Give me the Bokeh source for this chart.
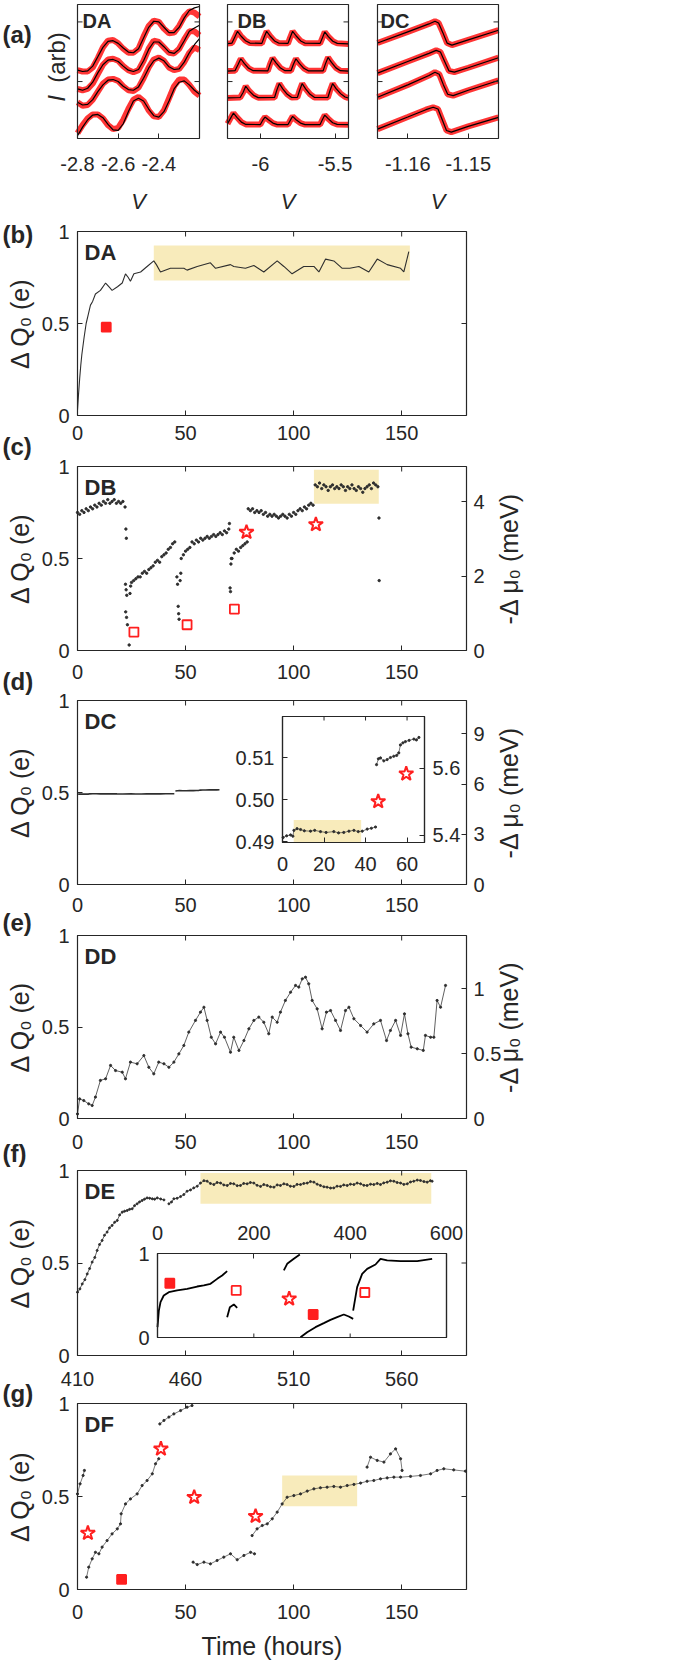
import math
import numpy as np
from bokeh.plotting import figure
from bokeh.models import Range1d, LinearAxis, FixedTicker, Label
from bokeh.embed import file_html
from bokeh.resources import INLINE

NaN = float("nan")

# ---------------- panel (a): I-V sweeps (arb. units) ----------------
DA_V = [-2.800, -2.775, -2.750, -2.725, -2.700, -2.675, -2.650, -2.625, -2.600, -2.575, -2.550, -2.525, -2.500,
        -2.475, -2.450, -2.425, -2.400, -2.375, -2.350, -2.325, -2.300, -2.275, -2.250, -2.225, -2.200]
DA_I1 = [0.51, 0.50, 0.50, 0.53, 0.60, 0.68, 0.73, 0.735, 0.71, 0.67, 0.64, 0.64, 0.67, 0.76, 0.84, 0.88, 0.87, 0.82, 0.785, 0.79, 0.84, 0.91, 0.95, 0.94, 0.91]
DA_I2 = [0.37, 0.36, 0.37, 0.41, 0.48, 0.55, 0.59, 0.595, 0.58, 0.54, 0.51, 0.495, 0.51, 0.58, 0.67, 0.73, 0.72, 0.68, 0.64, 0.635, 0.67, 0.74, 0.80, 0.80, 0.77]
DA_I3 = [0.27, 0.245, 0.25, 0.29, 0.35, 0.41, 0.44, 0.445, 0.43, 0.39, 0.36, 0.355, 0.38, 0.45, 0.53, 0.59, 0.605, 0.58, 0.53, 0.51, 0.52, 0.57, 0.64, 0.68, 0.66]
DA_I4 = [0.04, 0.10, 0.15, 0.18, 0.18, 0.15, 0.10, 0.07, 0.08, 0.14, 0.22, 0.29, 0.31, 0.28, 0.21, 0.165, 0.16, 0.21, 0.30, 0.39, 0.44, 0.44, 0.40, 0.35, 0.32]
DA_F1 = [0.51, 0.50, 0.505, 0.54, 0.61, 0.68, 0.725, 0.73, 0.71, 0.675, 0.645, 0.64, 0.67, 0.75, 0.83, 0.875, 0.87, 0.83, 0.79, 0.79, 0.83, 0.90, 0.955, 0.975, 0.985]
DA_F2 = [0.37, 0.36, 0.375, 0.42, 0.49, 0.55, 0.585, 0.59, 0.575, 0.54, 0.51, 0.50, 0.515, 0.58, 0.665, 0.72, 0.72, 0.685, 0.645, 0.635, 0.665, 0.73, 0.80, 0.825, 0.845]
DA_F3 = [0.27, 0.25, 0.255, 0.29, 0.35, 0.40, 0.435, 0.44, 0.425, 0.39, 0.365, 0.36, 0.385, 0.45, 0.525, 0.58, 0.60, 0.58, 0.535, 0.515, 0.52, 0.57, 0.64, 0.70, 0.745]
DA_F4 = [0.02, 0.085, 0.14, 0.175, 0.18, 0.155, 0.105, 0.065, 0.06, 0.11, 0.20, 0.28, 0.30, 0.28, 0.22, 0.17, 0.16, 0.20, 0.28, 0.37, 0.42, 0.43, 0.40, 0.36, 0.33]

DB_V1 = [-6.22, -6.19, -6.17, -6.153, -6.13, -6.10, -6.07, -5.99, -5.975, -5.958, -5.935, -5.905, -5.875, -5.815, -5.80, -5.784, -5.76, -5.73, -5.70, -5.60, -5.585, -5.569, -5.545, -5.515, -5.485, -5.41]
DB_I1 = [0.708, 0.712, 0.76, 0.80, 0.765, 0.73, 0.712, 0.71, 0.755, 0.80, 0.765, 0.728, 0.711, 0.71, 0.755, 0.80, 0.765, 0.728, 0.711, 0.71, 0.75, 0.795, 0.76, 0.726, 0.71, 0.706]
DB_V2 = [-6.22, -6.17, -6.15, -6.131, -6.108, -6.078, -6.048, -5.95, -5.935, -5.918, -5.895, -5.865, -5.835, -5.795, -5.78, -5.762, -5.739, -5.709, -5.679, -5.58, -5.565, -5.547, -5.524, -5.494, -5.464, -5.41]
DB_I2 = [0.503, 0.506, 0.55, 0.595, 0.56, 0.524, 0.506, 0.505, 0.555, 0.60, 0.565, 0.526, 0.506, 0.506, 0.55, 0.595, 0.56, 0.524, 0.505, 0.505, 0.555, 0.605, 0.568, 0.527, 0.506, 0.503]
DB_V3 = [-6.22, -6.135, -6.115, -6.098, -6.075, -6.045, -6.015, -5.905, -5.89, -5.873, -5.85, -5.82, -5.79, -5.752, -5.737, -5.72, -5.697, -5.667, -5.637, -5.548, -5.533, -5.516, -5.493, -5.463, -5.433, -5.41]
DB_I3 = [0.303, 0.306, 0.345, 0.39, 0.355, 0.322, 0.305, 0.306, 0.36, 0.41, 0.37, 0.33, 0.306, 0.307, 0.36, 0.41, 0.37, 0.33, 0.306, 0.306, 0.36, 0.41, 0.372, 0.335, 0.31, 0.302]
DB_V4 = [-6.22, -6.2, -6.18, -6.157, -6.127, -6.097, -6.0, -5.985, -5.969, -5.946, -5.916, -5.886, -5.815, -5.80, -5.784, -5.761, -5.731, -5.701, -5.60, -5.585, -5.569, -5.546, -5.516, -5.486, -5.41]
DB_I4 = [0.11, 0.15, 0.19, 0.158, 0.122, 0.105, 0.104, 0.135, 0.16, 0.14, 0.115, 0.104, 0.104, 0.135, 0.165, 0.14, 0.115, 0.104, 0.104, 0.14, 0.175, 0.148, 0.118, 0.105, 0.103]

DC_V1 = [-1.165, -1.160, -1.1565, -1.1555, -1.1549, -1.1542, -1.1535, -1.1527, -1.150, -1.145]
DC_I1 = [0.713, 0.796, 0.855, 0.875, 0.862, 0.79, 0.712, 0.697, 0.736, 0.808]
DC_V2 = [-1.165, -1.160, -1.1565, -1.1553, -1.1546, -1.1539, -1.1532, -1.1523, -1.150, -1.145]
DC_I2 = [0.488, 0.575, 0.635, 0.658, 0.645, 0.575, 0.505, 0.495, 0.528, 0.603]
DC_V3 = [-1.165, -1.160, -1.1565, -1.1555, -1.1548, -1.1541, -1.1534, -1.1525, -1.150, -1.145]
DC_I3 = [0.308, 0.40, 0.47, 0.495, 0.48, 0.40, 0.33, 0.32, 0.36, 0.433]
DC_V4 = [-1.165, -1.160, -1.157, -1.1558, -1.155, -1.1543, -1.1536, -1.1528, -1.150, -1.145]
DC_I4 = [0.07, 0.16, 0.215, 0.233, 0.22, 0.14, 0.06, 0.048, 0.09, 0.158]

A_RANGES = {"DA": (-2.8, -2.2), "DB": (-6.22, -5.41), "DC": (-1.165, -1.145)}
A_XTICKS = {"DA": [-2.8, -2.6, -2.4], "DB": [-6, -5.5], "DC": [-1.16, -1.15]}
A_XLABELS = {"DA": ["-2.8", "-2.6", "-2.4"], "DB": ["-6", "-5.5"], "DC": ["-1.16", "-1.15"]}
A_YT = [0.425, 0.87]
UNIT = (0, 1)

# ---------------- time traces: hours, ΔQ0 (e) ----------------
T_LIM = (0, 180)
TIME_TICKS = [0, 50, 100, 150]
DE_LIM = (410, 590)
DE_TICKS = [410, 460, 510, 560]
Q_TICKS = [0, 0.5, 1]
Q_LABELS = {0: "0", 0.5: "0.5", 1: "1"}

# (b) DA
DA_T = [0, 0.5, 1, 1.5, 2, 3, 4, 5, 6, 7, 8.3, 10.6, 13.0, 14.5, 16.0, 18.5, 20.7, 22.2, 23.5, 24.5, 26.1, 29.2,
        32.2, 35.3, 36.5, 38.4, 43.0, 49.2, 50.7, 55.4, 61.5, 63.9, 70.8, 72.3, 77.7, 81.6, 86.2, 92.4, 95.5, 99.3,
        104.7, 109.4, 111.7, 114.8, 118.6, 122.5, 126.0, 130.2, 134.8, 138.7, 143.3, 149.5, 151.0, 153.3]
DA_Q = [0.03, 0.12, 0.20, 0.27, 0.33, 0.42, 0.50, 0.55, 0.60, 0.62, 0.66, 0.68, 0.72, 0.70, 0.68, 0.70, 0.72, 0.77,
        0.75, 0.73, 0.77, 0.78, 0.81, 0.84, 0.82, 0.78, 0.80, 0.80, 0.79, 0.81, 0.83, 0.80, 0.82, 0.81, 0.80, 0.815,
        0.78, 0.84, 0.81, 0.77, 0.81, 0.81, 0.78, 0.85, 0.84, 0.80, 0.80, 0.81, 0.78, 0.85, 0.82, 0.80, 0.78, 0.89]
DA_BAND = [35.3, 153.8, 0.734, 0.924]
DA_SQ_T = [13.3]
DA_SQ_Q = [0.48]

# (c) DB
DB_T = [0, 1, 2, 3, 4, 5, 6, 7, 8, 9, 10, 11, 12, 13, 14, 15, 16, 17, 18, 19, 20, 21,
        22.0, 22.4, 22.6, 22.2, 22.5, 22.8, 22.3, 22.7, 23.1, 23.9, 24.3, 24.6,
        25, 26, 27, 28, 29, 30, 31, 32, 33, 34, 35, 36, 37, 38, 39, 40, 41, 42, 43, 44, 45,
        46.0, 46.3, 46.6, 46.8, 47.0, 47.5, 47.8,
        48, 49, 50, 51, 52, 53, 54, 55, 56, 57, 58, 59, 60, 61, 62, 63, 64, 65, 66, 67, 68, 69, 70,
        70.3, 70.6, 70.8, 71.0, 71.2,
        71.5, 72.5, 73.5, 74.5, 75.5, 76.5, 77.5, 78.5,
        79, 80, 81, 82, 83, 84, 85, 86, 87, 88, 89, 90, 91, 92, 93, 94, 95, 96, 97, 98, 99, 100, 101, 102, 103, 104,
        105, 106, 107, 108, 109,
        110, 111, 112, 113, 114, 115, 116, 117, 118, 119, 120, 121, 122, 123, 124, 125, 126, 127, 128, 129, 130, 131,
        132, 133, 134, 135, 136, 137, 138, 139,
        139.5, 139.6]
DB_Q = [0.75, 0.74, 0.76, 0.75, 0.77, 0.76, 0.78, 0.77, 0.79, 0.78, 0.80, 0.79, 0.81, 0.80, 0.82, 0.80, 0.81, 0.82, 0.80, 0.81, 0.80, 0.81,
        0.78, 0.66, 0.61, 0.36, 0.33, 0.30, 0.21, 0.18, 0.14, 0.03, 0.31, 0.35,
        0.37, 0.38, 0.39, 0.40, 0.40, 0.42, 0.43, 0.42, 0.44, 0.45, 0.46, 0.48, 0.49, 0.48, 0.51, 0.52, 0.53, 0.55, 0.56, 0.58, 0.59,
        0.40, 0.36, 0.24, 0.20, 0.17, 0.38, 0.42,
        0.50, 0.52, 0.54, 0.55, 0.56, 0.59, 0.58, 0.60, 0.59, 0.61, 0.60, 0.61, 0.62, 0.61, 0.62, 0.63, 0.62, 0.63, 0.64, 0.63, 0.65, 0.64, 0.66,
        0.69, 0.34, 0.32, 0.47, 0.50,
        0.50, 0.53, 0.55, 0.54, 0.56, 0.57, 0.58, 0.59,
        0.77, 0.76, 0.77, 0.75, 0.76, 0.75, 0.76, 0.74, 0.75, 0.73, 0.74, 0.73, 0.74, 0.73, 0.72, 0.73, 0.74, 0.73, 0.72, 0.74,
        0.73, 0.75, 0.74, 0.76, 0.77, 0.76, 0.78, 0.77, 0.79, 0.80, 0.79,
        0.90, 0.89, 0.91, 0.88, 0.90, 0.89, 0.87, 0.89, 0.90, 0.88, 0.89, 0.88, 0.90, 0.89, 0.87, 0.89, 0.88, 0.90, 0.88, 0.87,
        0.89, 0.88, 0.86, 0.88, 0.89, 0.90, 0.88, 0.91, 0.90, 0.89,
        0.72, 0.38]
DB_BAND = [109.4, 139.4, 0.797, 0.982]
DB_OSQ_T = [26.1, 50.7, 72.6]
DB_OSQ_Q = [0.10, 0.14, 0.225]
DB_STAR_T = [78.2, 110.3]
DB_STAR_Q = [0.643, 0.685]
DB_MEV = (0, 4.94)
DB_MEV_TICKS = [0, 2, 4]

# (d) DC  (same record drawn full-scale and in the inset)
DC_T = [0.3, 2.0, 3.9, 5.0, 5.5, 7.0, 8.7, 10.5, 13.5, 15.5, 18.3, 21.0, 24.7, 27.0, 29.5, 32.0, 34.4, 36.5, 38.4, 40.8, 42.8, 44.8,
        NaN, 45.3, 46.2, 47.2, 48.8, 50.4, 52.0, 53.6, 55.0, 56.0, 56.8, 58.0, 59.2, 61.0, 63.3, 64.5, 65.7]
DC_Q = [0.4910, 0.4914, 0.4916, 0.4913, 0.4927, 0.4931, 0.4929, 0.4926, 0.4925, 0.4927, 0.4924, 0.4922, 0.4924, 0.4921,
        0.4922, 0.4925, 0.4927, 0.4924, 0.4925, 0.4930, 0.4932, 0.4935,
        NaN, 0.5084, 0.5098, 0.5100, 0.5093, 0.5096, 0.5101, 0.5104, 0.5106, 0.5112, 0.5131, 0.5136, 0.5139, 0.5142, 0.5145, 0.5143, 0.5149]
DC_BAND = [5.4, 37.9, 0.4898, 0.4952]
DC_STAR_T = [46.1, 59.6]
DC_STAR_Q = [0.4996, 0.5062]
DC_MEV = (0, 11.0)
DC_MEV_TICKS = [0, 3, 6, 9]
DCI_X = (0, 68.4)
DCI_Y = (0.4898, 0.5199)
DCI_R = (5.378, 5.755)
DCI_XT = [0, 20, 40, 60]
DCI_YT = [0.49, 0.50, 0.51]
DCI_YL = {0.49: "0.49", 0.5: "0.50", 0.51: "0.51"}
DCI_RT = [5.4, 5.6]

# (e) DD
DD_T = [0, 1, 2.9, 5.2, 6.8, 8.3, 10.6, 13.0, 15.3, 17.6, 20.7, 22.2, 24.5, 27.6, 30.7, 33.0, 35.3, 37.6, 40.0, 42.3,
        44.6, 46.9, 49.2, 51.5, 54.6, 56.9, 58.5, 60.0, 61.9, 63.9, 66.2, 68.0, 70.8, 72.3, 74.7, 77.0, 79.3, 81.6, 83.9, 86.2,
        88.5, 90.1, 92.4, 93.9, 96.2, 98.6, 100.9, 102.4, 104.0, 105.5, 107.0, 108.6, 110.9, 113.2, 115.2, 117.1, 119.4, 121.7, 124.0, 125.6,
        127.9, 131.0, 134.0, 137.1, 140.2, 143.0, 144.8, 147.2, 149.5, 151.3, 152.9, 154.4, 157.2, 160.0, 161.0, 163.4, 164.9, 166.4, 168.0, 170.3]
DD_Q = [0.025, 0.107, 0.098, 0.08, 0.071, 0.117, 0.208, 0.217, 0.29, 0.262, 0.253, 0.217, 0.308, 0.299, 0.344, 0.28, 0.244, 0.308, 0.299, 0.28,
        0.308, 0.353, 0.399, 0.472, 0.536, 0.581, 0.608, 0.536, 0.444, 0.408, 0.472, 0.444, 0.362, 0.444, 0.372, 0.426, 0.49, 0.536, 0.554, 0.526,
        0.463, 0.554, 0.526, 0.581, 0.645, 0.69, 0.727, 0.718, 0.763, 0.772, 0.736, 0.645, 0.599, 0.49, 0.581, 0.59, 0.536, 0.481, 0.59, 0.608,
        0.545, 0.508, 0.472, 0.517, 0.536, 0.426, 0.481, 0.536, 0.454, 0.572, 0.463, 0.39, 0.381, 0.372, 0.454, 0.444, 0.444, 0.645, 0.608, 0.727]
DD_MEV = (0, 1.41)
DD_MEV_TICKS = [0, 0.5, 1]

# (f) DE
DE_T = [410, 411.1, 412.2, 413.4, 414.5, 415.6, 416.8, 418.0, 419.1, 420.2, 421.4, 422.5, 423.7, 424.8, 426.0, 427.2, 428.4,
        429.5, 430.7, 431.8, 433.0, 434.1, 435.3, 436.4, 437.6, 438.7, 439.9, 441.0, 442.2, 443.4, 444.6, 445.7, 446.9, 448.5, 450.0,
        NaN,
        452.3, 453.5, 454.6, 456.1, 457.7, 459.2, 460.7, 462.3, 463.8, 465.4,
        466.9, 468.5, 470.0, 471.5, 473.1, 474.6, 476.2, 477.7, 479.3, 480.8, 482.3, 483.9, 485.4, 486.9, 488.5, 490.0, 491.6, 493.1,
        494.7, 496.2, 497.8, 499.3, 500.9, 502.4, 503.9, 505.5, 507.0, 508.5, 510.1, 511.6, 513.2, 514.7, 516.3, 517.8, 519.4, 520.9,
        522.4, 524.0, 525.5, 527.1, 528.6, 530.1, 531.7, 533.2, 534.8, 536.3, 537.9, 539.4, 541.0, 542.5, 544.0, 545.6, 547.1, 548.7,
        550.2, 551.7, 553.3, 554.8, 556.4, 557.9, 559.5, 561.0, 562.6, 564.1, 565.6, 567.2, 568.7, 570.3, 571.8, 573.3, 574.1]
DE_Q = [0.342, 0.36, 0.387, 0.41, 0.441, 0.47, 0.505, 0.53, 0.568, 0.60, 0.622, 0.65, 0.667, 0.69, 0.703, 0.72, 0.73,
        0.76, 0.775, 0.78, 0.784, 0.79, 0.793, 0.81, 0.82, 0.83, 0.838, 0.845, 0.852, 0.85, 0.847, 0.845, 0.852, 0.846, 0.841,
        NaN,
        0.82, 0.83, 0.847, 0.85, 0.859, 0.87, 0.888, 0.895, 0.906, 0.915,
        0.932, 0.945, 0.942, 0.930, 0.924, 0.935, 0.932, 0.922, 0.919, 0.930, 0.928, 0.918, 0.919, 0.930, 0.928, 0.935, 0.932, 0.920,
        0.914, 0.924, 0.919, 0.912, 0.910, 0.922, 0.919, 0.928, 0.924, 0.915, 0.914, 0.925, 0.924, 0.930, 0.932, 0.940, 0.937, 0.926,
        0.919, 0.912, 0.910, 0.905, 0.906, 0.915, 0.914, 0.922, 0.919, 0.926, 0.924, 0.932, 0.928, 0.920, 0.919, 0.926, 0.924, 0.930,
        0.924, 0.933, 0.937, 0.944, 0.942, 0.935, 0.932, 0.925, 0.928, 0.938, 0.942, 0.948, 0.946, 0.940, 0.937, 0.945, 0.942]
DE_BAND = [466.9, 573.7, 0.82, 0.986]
# (f) inset: full DE record, 0-600 h
DEL_T = [0, 2.8, 6.2, 13.0, 23.5, 40.8, 61.6, 82.3, 96.2, 110.0, 123.9, 134.2, 144.6, NaN,
         144.6, 150.2, 158.5, 165.4, NaN,
         262.3, 269.2, 283.0, 295.5, NaN,
         296.9, 310.7, 328.0, 345.3, 359.1, 373.0, 386.8, 397.2, 406.2, NaN,
         406.2, 414.5, 424.9, 435.3, 452.6, 463.0, 476.8, 504.5, 539.1, 570.2]
DEL_Q = [0.123, 0.32, 0.42, 0.50, 0.54, 0.56, 0.58, 0.607, 0.62, 0.639, 0.698, 0.738, 0.79, NaN,
         0.242, 0.361, 0.393, 0.353, NaN,
         0.798, 0.877, 0.937, 0.988, NaN,
         0.004, 0.063, 0.123, 0.171, 0.21, 0.242, 0.274, 0.25, 0.222, NaN,
         0.321, 0.6, 0.758, 0.817, 0.869, 0.937, 0.917, 0.909, 0.909, 0.937]
DEL_SQ_T = [25.6, 323.2]
DEL_SQ_Q = [0.646, 0.274]
DEL_OSQ_T = [163.4, 430.4]
DEL_OSQ_Q = [0.56, 0.536]
DEL_STAR_T = [273.4]
DEL_STAR_Q = [0.46]
DEI_X = (0, 600)
DEI_Y = (0, 1)
DEI_XT = [0, 200, 400, 600]
DEI_YT = [0, 1]

# (g) DF
DF_T = [0, 1.2, 2.6, 3.2, NaN,
        4.2, 5.2, 6.8, 8.3, 9.9, 11.4, 13.7, 16.0, 18.4, 19.9, 20.2, 22.2, 24.5, 27.6, 29.9, 32.2, 34.6, 36.1, 37.6, NaN,
        38.1, 40.0, 42.3, 44.6, 47.7, 50.7, 53.0, NaN,
        53.5, 55.4, 58.5, 61.5, 64.6, 67.7, 70.8, 73.9, 77.0, 80.1, 81.9, NaN,
        80.8, 83.1, 85.5, 87.8, 90.1, 92.4, 94.7, 97.0, 100.1, 103.2, 106.3, 109.4, 112.4, 115.5, 118.6, 121.7, 124.8, 127.9,
        131.0, 134.0, 137.1, 140.2, 143.3, 146.4, 149.5, 154.1, 158.7, 163.4, 166.4, 169.5, 174.1, 179.5, NaN,
        134.0, 135.6, 138.7, 141.8, 144.8, 147.2, 149.5, 150.2]
DF_Q = [0.514, 0.568, 0.613, 0.64, NaN,
        0.066, 0.12, 0.165, 0.2, 0.192, 0.228, 0.263, 0.299, 0.326, 0.353, 0.407, 0.46, 0.487, 0.514, 0.559, 0.586, 0.622, 0.676, 0.703, NaN,
        0.89, 0.909, 0.927, 0.944, 0.962, 0.98, 0.989, NaN,
        0.147, 0.134, 0.147, 0.138, 0.156, 0.174, 0.192, 0.16, 0.183, 0.2, 0.192, NaN,
        0.29, 0.326, 0.344, 0.353, 0.38, 0.416, 0.46, 0.496, 0.505, 0.514, 0.529, 0.541, 0.547, 0.55, 0.554, 0.55, 0.559, 0.565,
        0.572, 0.582, 0.586, 0.595, 0.6, 0.604, 0.604, 0.608, 0.613, 0.622, 0.64, 0.649, 0.643, 0.636, NaN,
        0.658, 0.711, 0.694, 0.685, 0.729, 0.756, 0.703, 0.64]
DF_BAND = [94.7, 129.4, 0.448, 0.613]
DF_STAR_T = [4.8, 38.6, 54.0, 82.4]
DF_STAR_Q = [0.303, 0.756, 0.496, 0.394]
DF_SQ_T = [20.4]
DF_SQ_Q = [0.054]

# ---------------- styling / layout ----------------
NARROW = "Liberation Sans Narrow, Liberation Sans, Arial, sans-serif"
SANS = "Liberation Sans, Arial, sans-serif"
DARK = "#262626"
DOT = "#2e2e2e"
RED = "#ff1f1f"
BAND = "#f8ebbb"
W, H = 685, 1662

# plot boxes on the page: (left, right, top, bottom) in px
BOX = {
    "pa1": (77, 199, 4, 138),
    "pa2": (227, 348, 4, 138),
    "pa3": (377, 498, 4, 138),
    "pb": (77, 466, 231, 415),
    "pc": (77, 466, 466, 650),
    "pd": (77, 466, 700, 884),
    "pe": (77, 466, 935, 1118),
    "pf": (77, 466, 1170, 1355),
    "pg": (77, 466, 1403, 1589),
    "pdi": (282, 424, 716, 842),
    "pfi": (157, 446, 1253, 1337),
}


def span(lim, p0, p1, total):
    k = (lim[1] - lim[0]) / (p1 - p0)
    return Range1d(lim[0] - p0 * k, lim[1] + (total - p1) * k)


XR, YR, LIM = {}, {}, {}


def panel(name, xlim, ylim, extra_y=None):
    L, R, T, B = BOX[name]
    XR[name + "x"] = span(xlim, L, R, W)
    YR[name + "y"] = span(ylim, H - B, H - T, H)
    LIM[name] = (xlim, ylim)
    if extra_y is not None:
        YR[name + "r"] = span(extra_y, H - B, H - T, H)


for nm, key in (("pa1", "DA"), ("pa2", "DB"), ("pa3", "DC")):
    panel(nm, A_RANGES[key], UNIT)
panel("pb", T_LIM, UNIT)
panel("pc", T_LIM, UNIT, DB_MEV)
panel("pd", T_LIM, UNIT, DC_MEV)
panel("pe", T_LIM, UNIT, DD_MEV)
panel("pf", DE_LIM, UNIT)
panel("pg", T_LIM, UNIT)
panel("pdi", DCI_X, DCI_Y, DCI_R)
panel("pfi", DEI_X, DEI_Y)

p = figure(width=W, height=H, x_range=Range1d(0, W), y_range=Range1d(0, H),
           min_border=0, min_border_left=0, min_border_right=0, min_border_top=0, min_border_bottom=0,
           x_axis_location=None, y_axis_location=None, toolbar_location=None, tools="",
           output_backend="svg")
p.outline_line_color = None
p.xgrid.visible = False
p.ygrid.visible = False
p.background_fill_color = "white"
p.border_fill_color = "white"
p.extra_x_ranges = XR
p.extra_y_ranges = YR


def rn(name, y=None):
    return dict(x_range_name=name + "x", y_range_name=y or (name + "y"))


def arr(a):
    return np.array(a, dtype=float)


def style_axis(ax, standoff):
    ax.axis_line_color = None
    ax.major_tick_in = 5
    ax.major_tick_out = 0
    ax.minor_tick_line_color = None
    ax.major_tick_line_color = DARK
    ax.major_tick_line_width = 1
    ax.major_label_standoff = standoff
    ax.major_label_text_font = NARROW
    ax.major_label_text_font_size = "20px"
    ax.major_label_text_color = DARK


def axis(side, name, loc, ticks, standoff, yname=None, overrides=None):
    ax = LinearAxis(fixed_location=loc, ticker=FixedTicker(ticks=ticks), **rn(name, yname))
    style_axis(ax, standoff)
    if overrides:
        ax.major_label_overrides = overrides
    p.add_layout(ax, side)


def ticks_in(name, xs, ys, ang, yname=None, n=5):
    p.ray(x=xs, y=ys, length=n, length_units="screen", angle=ang, line_color=DARK, line_width=1, **rn(name, yname))


def box(name, fill=None):
    (x0, x1), (y0, y1) = LIM[name]
    p.quad(left=[x0], right=[x1], bottom=[y0], top=[y1], fill_color=fill, line_color=DARK, line_width=1.2, **rn(name))


def band(name, b):
    p.quad(left=[b[0]], right=[b[1]], bottom=[b[2]], top=[b[3]], fill_color=BAND, line_color=None, **rn(name))


def stars(name, t, q):
    p.scatter(t, q, marker="star", size=15, fill_color="white", line_color=RED, line_width=2, **rn(name))


def squares(name, t, q, filled):
    p.scatter(t, q, marker="square", size=9, fill_color=RED if filled else "white", line_color=RED,
              line_width=1.8, **rn(name))


def lab(cx, cy, text, size, font=NARROW, style="normal", align="left", angle=0.0):
    # (cx, cy): page position of the text's anchor, cy = vertical middle of the text
    p.add_layout(Label(x=cx, y=H - cy, text=text, text_font=font, text_font_size=f"{size}px",
                       text_font_style=style, text_align=align, text_baseline="middle", angle=angle,
                       text_color=DARK))


def vlab(cx, cy, text, size=25, style="normal"):
    lab(cx, cy, text, size, font=SANS, style=style, align="center", angle=math.pi / 2)


def main_axes(name, xticks, standoff, right=False, rticks=None, roverrides=None):
    (x0, x1), (y0, y1) = LIM[name]
    axis("below", name, y0, xticks, standoff)
    axis("left", name, x0, Q_TICKS, 8, overrides=Q_LABELS)
    ticks_in(name, xticks, [y1] * len(xticks), -math.pi / 2)
    if right:
        axis("right", name, x1, rticks, 7, yname=name + "r", overrides=roverrides)
    else:
        ticks_in(name, [x1], [0.5], math.pi)


YLAB = "Δ Q₀ (e)"
RLAB = "-Δ μ₀ (meV)"

# ---- panel (a) ----
A_SETS = {
    "pa1": ([DA_V] * 4, [DA_I1, DA_I2, DA_I3, DA_I4], [DA_F1, DA_F2, DA_F3, DA_F4], "DA"),
    "pa2": ([DB_V1, DB_V2, DB_V3, DB_V4], [DB_I1, DB_I2, DB_I3, DB_I4], [DB_I1, DB_I2, DB_I3, DB_I4], "DB"),
    "pa3": ([DC_V1, DC_V2, DC_V3, DC_V4], [DC_I1, DC_I2, DC_I3, DC_I4], [DC_I1, DC_I2, DC_I3, DC_I4], "DC"),
}
for nm, (Vs, Is, Fs, key) in A_SETS.items():
    for V, I, F in zip(Vs, Is, Fs):
        p.line(V, I, line_color=RED, line_width=6, line_alpha=0.9, **rn(nm))
        p.line(V, F, line_color="black", line_width=1.2, **rn(nm))
    box(nm)
    (x0, x1), (y0, y1) = LIM[nm]
    axis("below", nm, y0, A_XTICKS[key], 18, overrides=dict(zip(A_XTICKS[key], A_XLABELS[key])))
    ticks_in(nm, [x0] * len(A_YT), A_YT, 0)
    ticks_in(nm, [x1] * len(A_YT), A_YT, math.pi)

lab(2, 33.5, "(a)", 24, style="bold")
vlab(56, 57, "(arb)", 24)
vlab(56, 98, "I", 24, style="italic")
lab(82, 20, "DA", 20, font=SANS, style="bold")
lab(237, 20, "DB", 20, font=SANS, style="bold")
lab(380, 20, "DC", 20, font=SANS, style="bold")
for cx in (138, 287.5, 437.5):
    lab(cx, 200.5, "V", 22, style="italic", align="center")

# ---- panel (b) DA ----
band("pb", DA_BAND)
p.line(DA_T, DA_Q, line_color=DOT, line_width=1.1, **rn("pb"))
squares("pb", DA_SQ_T, DA_SQ_Q, True)
box("pb")
main_axes("pb", TIME_TICKS, 10)

# ---- panel (c) DB ----
band("pc", DB_BAND)
p.scatter(DB_T, DB_Q, size=2.4, color=DOT, **rn("pc"))
squares("pc", DB_OSQ_T, DB_OSQ_Q, False)
stars("pc", DB_STAR_T, DB_STAR_Q)
box("pc")
main_axes("pc", TIME_TICKS, 14, True, DB_MEV_TICKS)

# ---- panel (d) DC with inset ----
p.line(arr(DC_T), arr(DC_Q), line_color=DOT, line_width=1.6, **rn("pd"))
box("pd")
main_axes("pd", TIME_TICKS, 13, True, DC_MEV_TICKS)
box("pdi", fill="white")
band("pdi", DC_BAND)
p.line(arr(DC_T), arr(DC_Q), line_color=DOT, line_width=0.8, line_alpha=0.8, **rn("pdi"))
p.scatter(arr(DC_T), arr(DC_Q), size=2.2, color=DOT, **rn("pdi"))
stars("pdi", DC_STAR_T, DC_STAR_Q)
box("pdi")
axis("below", "pdi", DCI_Y[0], DCI_XT, 14)
axis("left", "pdi", DCI_X[0], DCI_YT, 8, overrides=DCI_YL)
axis("right", "pdi", DCI_X[1], DCI_RT, 8, yname="pdir")
ticks_in("pdi", DCI_XT[1:], [DCI_Y[1]] * 3, -math.pi / 2, n=4)

# ---- panel (e) DD ----
p.line(DD_T, DD_Q, line_color=DOT, line_width=0.9, line_alpha=0.85, **rn("pe"))
p.scatter(DD_T, DD_Q, size=2.2, color=DOT, **rn("pe"))
box("pe")
main_axes("pe", TIME_TICKS, 16, True, DD_MEV_TICKS, Q_LABELS)

# ---- panel (f) DE with inset ----
band("pf", DE_BAND)
p.line(arr(DE_T), arr(DE_Q), line_color=DOT, line_width=0.9, line_alpha=0.85, **rn("pf"))
p.scatter(arr(DE_T), arr(DE_Q), size=2.0, color=DOT, **rn("pf"))
box("pf")
main_axes("pf", DE_TICKS, 16)
box("pfi", fill="white")
p.line(arr(DEL_T), arr(DEL_Q), line_color="black", line_width=1.8, **rn("pfi"))
squares("pfi", DEL_SQ_T, DEL_SQ_Q, True)
squares("pfi", DEL_OSQ_T, DEL_OSQ_Q, False)
stars("pfi", DEL_STAR_T, DEL_STAR_Q)
box("pfi")
axis("above", "pfi", DEI_Y[1], DEI_XT, 14)
axis("left", "pfi", DEI_X[0], DEI_YT, 8)
ticks_in("pfi", DEI_XT[1:3], [DEI_Y[0]] * 2, math.pi / 2, n=4)

# ---- panel (g) DF ----
band("pg", DF_BAND)
p.line(arr(DF_T), arr(DF_Q), line_color=DOT, line_width=0.8, line_alpha=0.8, **rn("pg"))
p.scatter(arr(DF_T), arr(DF_Q), size=2.2, color=DOT, **rn("pg"))
stars("pg", DF_STAR_T, DF_STAR_Q)
squares("pg", DF_SQ_T, DF_SQ_Q, True)
box("pg")
main_axes("pg", TIME_TICKS, 15)

# ---- texts ----
PANEL_TAGS = [("(b)", 233.5, "pb", "DA"), ("(c)", 446, "pc", "DB"), ("(d)", 681, "pd", "DC"),
              ("(e)", 921.5, "pe", "DD"), ("(f)", 1152.5, "pf", "DE"), ("(g)", 1392.5, "pg", "DF")]
for tag, mid_y, nm, dev in PANEL_TAGS:
    L, R, T, B = BOX[nm]
    lab(2, mid_y, tag, 24, style="bold")
    lab(L + 7, T + 20.5, dev, 22, font=SANS, style="bold")
    vlab(19, (T + B) / 2, YLAB)
for nm in ("pc", "pd", "pe"):
    L, R, T, B = BOX[nm]
    vlab(508, (T + B) / 2, RLAB)
lab(271.5, 1645, "Time (hours)", 25, align="center")

with open("out.html", "w") as fh:
    fh.write(file_html(p, INLINE, "ΔQ0 traces"))
